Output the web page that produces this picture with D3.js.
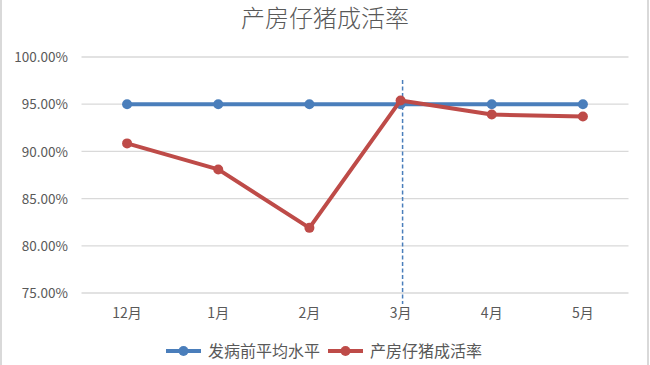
<!DOCTYPE html>
<html><head><meta charset="utf-8">
<script src="https://cdn.jsdelivr.net/npm/d3@7"></script>
<style>
body{margin:0;background:#fff;}
svg{display:block;}
text{font-family:"Noto Sans CJK SC","Noto Sans",sans-serif;}
</style></head>
<body><svg id="c" width="650" height="365"></svg>
<script>
const categories = ["12月","1月","2月","3月","4月","5月"];
const baseline = [0.95,0.95,0.95,0.95,0.95,0.95];
const survival = [0.9085,0.8809,0.8190,0.9540,0.9390,0.9370];
const yTicks = [0.75,0.80,0.85,0.90,0.95,1.00];
const seriesNames = ["发病前平均水平","产房仔猪成活率"];
const colors = ["#4a7ebb","#be4b48"];

const svg = d3.select("#c");
svg.append("rect").attr("x",1).attr("y",-2).attr("width",647).attr("height",369)
  .attr("fill","#fff").attr("stroke","#d9d9d9").attr("stroke-width",2);

const x = d3.scaleBand().domain(categories).range([81.5,628.5]);
const y = d3.scaleLinear().domain([0.75,1.0]).range([293,57]);

svg.append("text").attr("x",325).attr("y",27).attr("text-anchor","middle")
  .attr("font-size",24).attr("fill","#595959").attr("font-weight",300).text("产房仔猪成活率");

// gridlines
svg.append("g").selectAll("line").data(yTicks).join("line")
  .attr("x1",81.5).attr("x2",628.5)
  .attr("y1",d=>y(d)).attr("y2",d=>y(d))
  .attr("stroke","#d9d9d9").attr("stroke-width",1.3);

const yAxis = svg.append("g").attr("transform","translate(71,0)")
  .call(d3.axisLeft(y).tickValues(yTicks).tickFormat(d3.format(".2%")).tickSize(0));
yAxis.select(".domain").remove();
yAxis.selectAll("text").attr("font-size",13.5).attr("fill","#595959")
  .attr("font-family","'Open Sans','DejaVu Sans',sans-serif").attr("dy","0.35em");

const xAxis = svg.append("g").attr("transform","translate(0,305)")
  .call(d3.axisBottom(x).tickSize(0));
xAxis.select(".domain").remove();
xAxis.selectAll("text").attr("font-size",14).attr("fill","#595959");

// dashed vertical line
svg.append("line").attr("x1",x("3月")+x.bandwidth()/2+2).attr("x2",x("3月")+x.bandwidth()/2+2)
  .attr("y1",80).attr("y2",304)
  .attr("stroke","#4a7ebb").attr("stroke-width",1.5).attr("stroke-dasharray","4,2.5");

const line = d3.line().x((d,i)=>x(categories[i])+x.bandwidth()/2).y(d=>y(d));
[baseline, survival].forEach((s,k)=>{
  svg.append("path").attr("d",line(s)).attr("fill","none")
    .attr("stroke",colors[k]).attr("stroke-width",4).attr("stroke-linejoin","round");
  svg.append("g").selectAll("circle").data(s).join("circle")
    .attr("cx",(d,i)=>x(categories[i])+x.bandwidth()/2).attr("cy",d=>y(d))
    .attr("r",5).attr("fill",colors[k]);
});

// legend
const lg = svg.append("g");
const lx = [166, 328];
seriesNames.forEach((n,k)=>{
  const g = lg.append("g").attr("transform",`translate(${lx[k]},351)`);
  g.append("line").attr("x1",0).attr("x2",35).attr("stroke",colors[k]).attr("stroke-width",4);
  g.append("circle").attr("cx",17.5).attr("r",5).attr("fill",colors[k]);
  g.append("text").attr("x",42).attr("dy","0.35em").attr("font-size",16).attr("fill","#595959").text(n);
});
</script></body></html>
